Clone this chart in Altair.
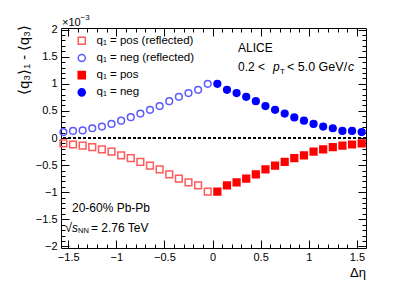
import altair as alt
import pandas as pd

# ---------------- data ----------------
deta = [0.05, 0.15, 0.25, 0.35, 0.45, 0.55, 0.65, 0.75,
        0.85, 0.95, 1.05, 1.15, 1.25, 1.35, 1.45, 1.55]
neg_vals = [1.00, 0.89, 0.83, 0.76, 0.68, 0.59, 0.52, 0.45,
            0.38, 0.32, 0.26, 0.21, 0.18, 0.13, 0.13, 0.11]
pos_vals = [-0.99, -0.875, -0.82, -0.75, -0.67, -0.58, -0.51, -0.44,
            -0.37, -0.32, -0.25, -0.21, -0.17, -0.14, -0.12, -0.10]
# reflected (drawn at -delta eta)
neg_refl_vals = [1.00, 0.89, 0.83, 0.76, 0.68, 0.59, 0.52, 0.45,
                 0.385, 0.32, 0.26, 0.21, 0.18, 0.14, 0.13, 0.11]
pos_refl_vals = [-0.99, -0.875, -0.82, -0.75, -0.67, -0.58, -0.51, -0.44,
                 -0.37, -0.32, -0.25, -0.21, -0.17, -0.14, -0.12, -0.10]

series = ["q\u2081 = pos (reflected)", "q\u2081 = neg (reflected)",
          "q\u2081 = pos", "q\u2081 = neg"]
x_major = [-1.5, -1, -0.5, 0, 0.5, 1, 1.5]
x_minor = [round(-1.5 + 0.1 * i, 2) for i in range(31)]
y_major = [-2, -1.5, -1, -0.5, 0, 0.5, 1, 1.5, 2]
y_minor = [round(-2 + 0.1 * i, 2) for i in range(41)]

rows = []
for d, v in zip(deta, pos_refl_vals):
    rows.append({"deta": -d, "val": v, "series": series[0]})
for d, v in zip(deta, neg_refl_vals):
    rows.append({"deta": -d, "val": v, "series": series[1]})
for d, v in zip(deta, pos_vals):
    rows.append({"deta": d, "val": v, "series": series[2]})
for d, v in zip(deta, neg_vals):
    rows.append({"deta": d, "val": v, "series": series[3]})
df = pd.DataFrame(rows)

# ---------------- styling ----------------
FONT = "Liberation Sans"
W, H = 305, 220
xs = alt.Scale(domain=[-1.575, 1.595], nice=False, zero=False)
ys = alt.Scale(domain=[-2.03, 2.03], nice=False, zero=False)

shapes = ["square", "circle", "square", "circle"]
strokes = ["#ff5a5a", "#5a5aff", "#ff0000", "#0000ff"]
fills = ["transparent", "transparent", "#ff0000", "#0000ff"]

leg = alt.Legend(title=None, orient="none", legendX=15, legendY=7, padding=0,
                 labelFontSize=11.5, labelFont=FONT, labelColor="black",
                 symbolSize=50, symbolStrokeWidth=1.5, rowPadding=3.2,
                 labelOffset=9, labelLimit=0)

pts = alt.Chart(df).mark_point(size=45, strokeWidth=1.5, opacity=1).encode(
    x=alt.X("deta:Q", scale=xs,
            axis=alt.Axis(orient="bottom", values=x_major, ticks=False, domain=False,
                          grid=False, title=None, format="~g", labelFontSize=11,
                          labelFont=FONT, labelColor="black", labelPadding=3,
                          labelFlush=False)),
    y=alt.Y("val:Q", scale=ys,
            axis=alt.Axis(orient="left", values=y_major, ticks=False, domain=False,
                          grid=False, title=None, format="~g", labelFontSize=11,
                          labelFont=FONT, labelColor="black", labelPadding=4,
                          labelFlush=False)),
    shape=alt.Shape("series:N", scale=alt.Scale(domain=series, range=shapes), legend=leg),
    stroke=alt.Stroke("series:N", scale=alt.Scale(domain=series, range=strokes), legend=leg),
    fill=alt.Fill("series:N", scale=alt.Scale(domain=series, range=fills), legend=leg),
)


def tick_axis(orient, values, size):
    return alt.Axis(orient=orient, values=values, tickSize=size, offset=-size,
                    labels=False, domain=False, grid=False, title=None,
                    tickColor="black", tickWidth=1)


def x_ticks(orient, values, size):
    return alt.Chart(df).mark_point(opacity=0).encode(
        x=alt.X("deta:Q", scale=xs, axis=tick_axis(orient, values, size)),
        y=alt.Y("val:Q", scale=ys, axis=None))


def y_ticks(orient, values, size):
    return alt.Chart(df).mark_point(opacity=0).encode(
        x=alt.X("deta:Q", scale=xs, axis=None),
        y=alt.Y("val:Q", scale=ys, axis=tick_axis(orient, values, size)))


zero = alt.Chart(df).mark_rule(color="black", strokeDash=[3, 2], strokeWidth=1).encode(
    y=alt.Y(datum=0, scale=ys, axis=None))

one = alt.Data(values=[{}])


def txt(s, x, y, size=12, style="normal", align="left", angle=0, baseline="middle"):
    return alt.Chart(one).mark_text(fontSize=size, font=FONT, fontStyle=style,
                                    align=align, baseline=baseline, angle=angle,
                                    color="black").encode(
        x=alt.value(x), y=alt.value(y), text=alt.value(s))


texts = [
    txt("\u00d710", 1, -5, size=11),
    txt("\u22123", 19.5, -10, size=8),
    txt("\u27e8q\u2083\u27e9\u2081 - \u27e8q\u2083\u27e9", -36, -3, size=14.5,
        align="right", angle=270),
    txt("ALICE", 177, 20),
    txt("0.2 <", 177, 39),
    txt("p", 212, 39, style="italic"),
    txt("T", 219, 44, size=8),
    txt("< 5.0 GeV/", 226, 39, size=12.5),
    txt("c", 287, 39, style="italic"),
    txt("20-60% Pb-Pb", 11, 180),
    txt("\u221a", 4, 200, size=13),
    txt("s", 11, 200, style="italic"),
    txt("NN", 17, 203, size=7.5),
    txt("= 2.76 TeV", 30, 200),
    txt("\u0394\u03b7", W, 245, size=13, align="right"),
]

layers = [zero,
          x_ticks("bottom", x_major, 8), x_ticks("bottom", x_minor, 4),
          x_ticks("top", x_major, 8), x_ticks("top", x_minor, 4),
          y_ticks("left", y_major, 8), y_ticks("left", y_minor, 4),
          y_ticks("right", y_major, 8), y_ticks("right", y_minor, 4),
          pts] + texts

chart = alt.layer(*layers).resolve_axis(x="independent", y="independent").properties(
    width=W, height=H,
    autosize=alt.AutoSizeParams(type="none"),
    padding={"left": 53, "top": 20, "right": 33, "bottom": 36},
).configure_view(stroke="black", strokeWidth=1)

chart.save("out.html", embed_options={"renderer": "svg", "actions": False})
